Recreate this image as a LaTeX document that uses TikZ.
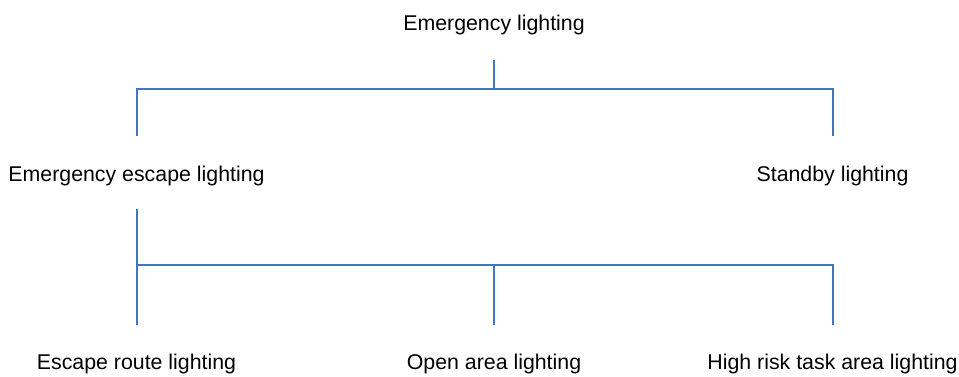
\documentclass[tikz,border=0pt]{standalone}
\usepackage{fontspec}
\setmainfont{Liberation Sans}
\definecolor{linkblue}{HTML}{4472C4}
\begin{document}
\begin{tikzpicture}[x=0.75pt,y=-0.75pt,
  lbl/.style={font=\fontsize{16}{19}\selectfont, inner sep=0pt, anchor=center},
  conn/.style={draw=linkblue, line width=1.5pt}]
\useasboundingbox (0,0) rectangle (959,376);
% labels
\node[lbl] (root) at (494,25) {Emergency lighting};
\node[lbl] (eel) at (136.5,175.5) {Emergency escape lighting};
\node[lbl] (sl) at (832.5,175.5) {Standby lighting};
\node[lbl] (erl) at (136.5,363.5) {Escape route lighting};
\node[lbl] (oal) at (494,363.5) {Open area lighting};
\node[lbl] (hrl) at (832.5,363.5) {High risk task area lighting};
% connector points
\coordinate (r0) at (494,60);
\coordinate (j1) at (494,89);
\coordinate (l1) at (137,136);
\coordinate (rt1) at (833,136);
\coordinate (l2) at (137,209);
\coordinate (j2) at (137,265);
\coordinate (m2) at (494,265);
\coordinate (b1) at (137,325);
\coordinate (b2) at (494,325);
\coordinate (b3) at (833,325);
% connectors
\draw[conn] (r0) -- (j1);
\draw[conn] (l1) |- (j1) -| (rt1);
\draw[conn] (l2) -- (b1);
\draw[conn] (j2) -| (b3);
\draw[conn] (m2) -- (b2);
\end{tikzpicture}
\end{document}
